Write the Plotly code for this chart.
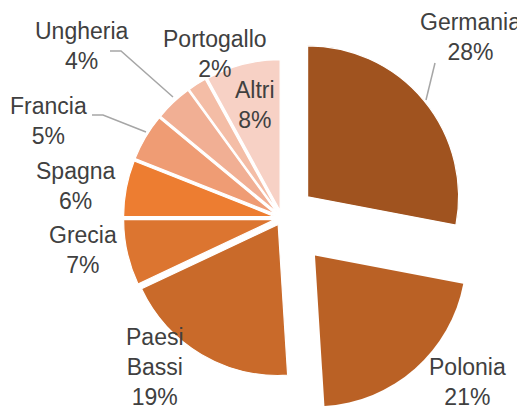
import math
import plotly.graph_objects as go

# ---- data ----
labels = ["Germania", "Polonia", "Paesi Bassi", "Grecia", "Spagna",
          "Francia", "Ungheria", "Portogallo", "Altri"]
values = [28, 21, 19, 7, 6, 5, 4, 2, 8]
label_text = ["Germania<br>28%", "Polonia<br>21%", "Paesi<br>Bassi<br>19%", "Grecia<br>7%",
              "Spagna<br>6%", "Francia<br>5%", "Ungheria<br>4%", "Portogallo<br>2%", "Altri<br>8%"]

# ---- styles ----
colors = ["#A0531F", "#BA6125", "#C96A2A", "#DC7530", "#ED7D31",
          "#EF9C74", "#F1AF94", "#F4BDA6", "#F7D1C5"]
pulls = [0.22, 0.05, 0.05, 0.05, 0.05, 0.05, 0.05, 0.05, 0.05]
polonia_pull = 0.33

# page is offset by the default 8px body margin
OFF = 8
PW, PH = 525, 410
W, H = PW - OFF, PH - OFF
R = 151
CX, CY = 282, 218          # page pixels
TEXT_COLOR = "#404040"
FONT = "Liberation Sans, Arial, sans-serif"
FS = 23

# label positions (page pixels, centre of text block)
label_pos = [(470, 37), (467, 382), (155, 367), (83, 250), (76, 186),
             (48, 121), (82, 46), (215, 54), (255, 105)]
# leader lines (page pixel polylines)
leaders = [
    [(435, 63), (426, 100)],
    [(110, 51), (121, 51), (173, 97)],
    [(92, 115), (103, 115), (146, 132)],
]


def px(x):
    return (x - OFF) / W


def py(y):
    return 1 - (y - OFF) / H


def dom(cx, cy, half):
    return dict(x=[px(cx - half), px(cx + half)],
                y=[py(cy + half), py(cy - half)])


total = sum(values)
idx_pol = labels.index("Polonia")
start = sum(values[:idx_pol]) / total * 360
mid = math.radians(start + values[idx_pol] / total * 180)
d = polonia_pull * R
pcx = CX + d * math.sin(mid)
pcy = CY - d * math.cos(mid)

transparent = "rgba(0,0,0,0)"

main_colors = [transparent if i == idx_pol else c for i, c in enumerate(colors)]
main_lw = [0 if i == idx_pol else 1.2 for i in range(len(values))]
pol_colors = [colors[i] if i == idx_pol else transparent for i in range(len(values))]

fig = go.Figure()
fig.add_trace(go.Pie(
    labels=labels, values=values, sort=False, direction="clockwise", rotation=0,
    pull=pulls, textinfo="none", hoverinfo="skip", showlegend=False,
    marker=dict(colors=main_colors, line=dict(color="white", width=main_lw)),
    domain=dom(CX, CY, R * (1 + max(pulls))),
))
fig.add_trace(go.Pie(
    labels=labels, values=values, sort=False, direction="clockwise", rotation=0,
    textinfo="none", hoverinfo="skip", showlegend=False,
    marker=dict(colors=pol_colors, line=dict(width=0)),
    domain=dom(pcx, pcy, R),
))

for txt, (x, y) in zip(label_text, label_pos):
    fig.add_annotation(x=px(x), y=py(y), xref="paper", yref="paper",
                       text=txt, showarrow=False, xanchor="center", yanchor="middle",
                       font=dict(family=FONT, size=FS, color=TEXT_COLOR))

for pts in leaders:
    path = "M " + " L ".join(f"{px(x):.5f},{py(y):.5f}" for x, y in pts)
    fig.add_shape(type="path", path=path, xref="paper", yref="paper",
                  line=dict(color="#A6A6A6", width=1.5))

fig.update_layout(width=W, height=H, margin=dict(l=0, r=0, t=0, b=0),
                  paper_bgcolor="white", plot_bgcolor="white")
fig.write_html("out.html")
